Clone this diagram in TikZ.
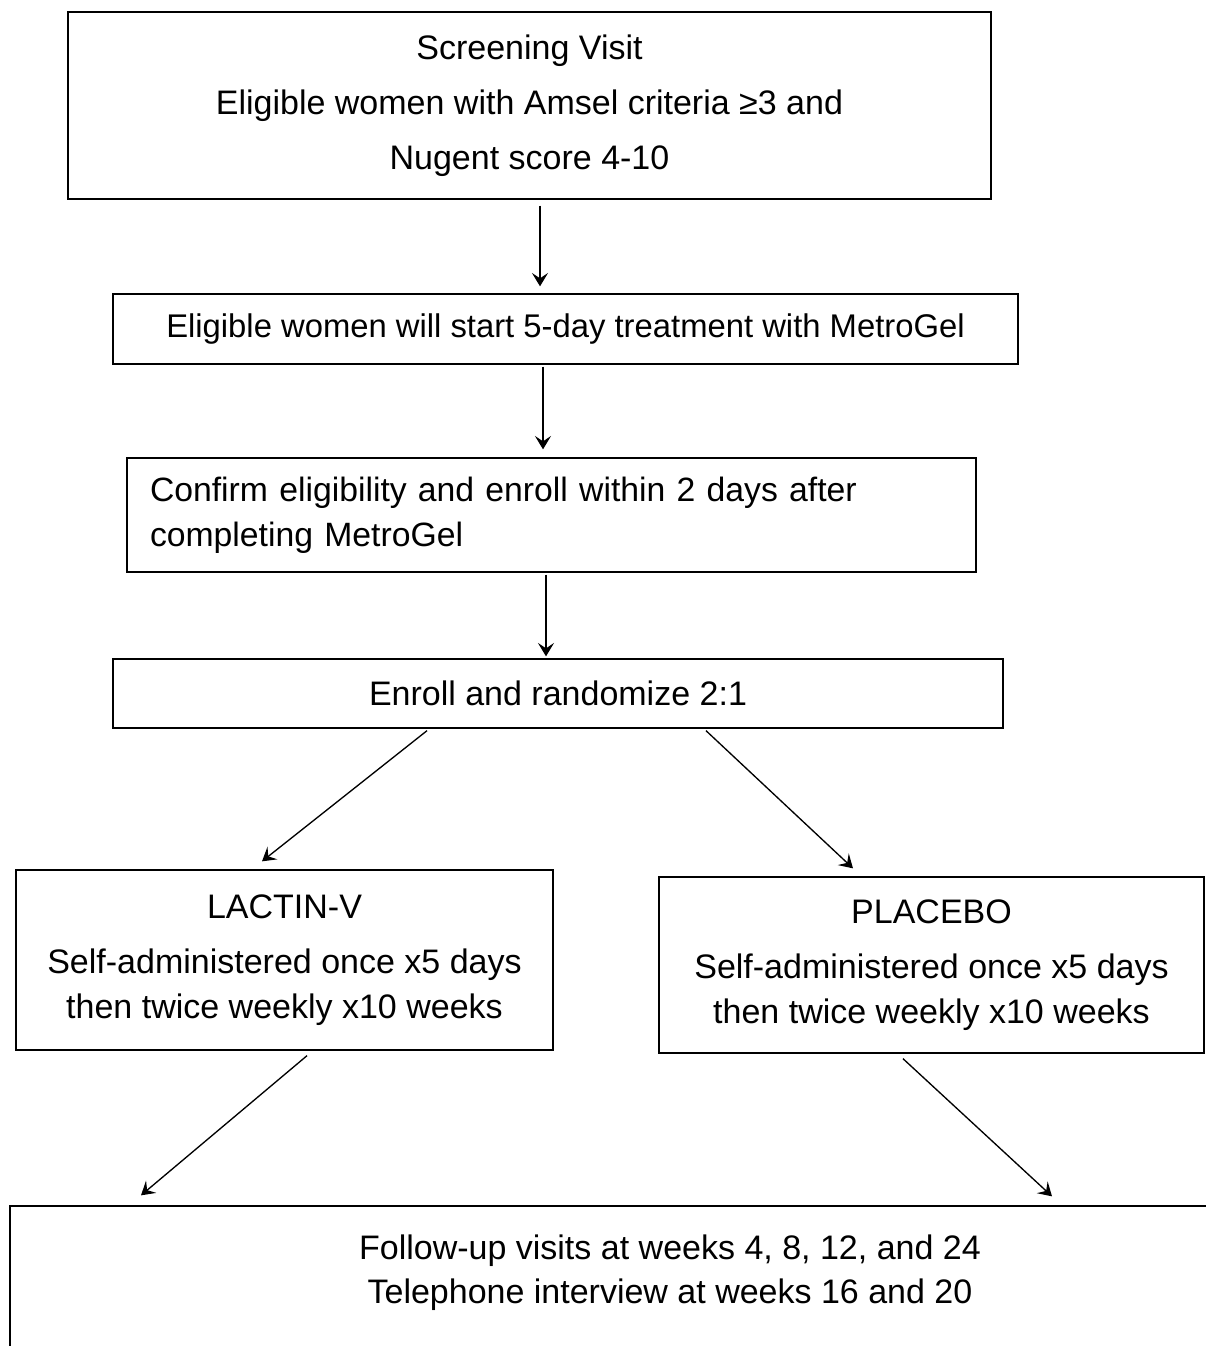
\documentclass[tikz,border=0pt]{standalone}
\usepackage{fontspec}
\setmainfont{Liberation Sans}
\usetikzlibrary{arrows.meta,calc}
\begin{document}
\begin{tikzpicture}[x=0.75pt,y=-0.75pt,
  box/.style={draw=black,line width=1pt,inner sep=0pt,align=center,
    font=\fontsize{25.5}{33.75}\selectfont},
  arr/.style={line width=1pt,-{Stealth[length=10pt,width=12pt,inset=4pt]}},
  txt/.style={inner sep=0pt,align=center,font=\fontsize{25.5}{33}\selectfont}]
\clip (0,0) rectangle (1206,1346);
\fill[white] (0,0) rectangle (1206,1346);

\node[box,minimum width=692.25pt,minimum height=140.25pt] (b1) at (529.5,105.5)
  {Screening Visit\\[7.5pt]Eligible women with Amsel criteria ≥3 and\\[7.5pt]Nugent score 4-10};
\node[box,minimum width=678.75pt,minimum height=52.5pt,font=\fontsize{24.6}{33}\selectfont] (b2) at (565.5,329)
  {Eligible women will start 5-day treatment with MetroGel};
\node[box,minimum width=636.75pt,minimum height=85.5pt,align=left,text width=602.25pt,font=\fontsize{25.3}{33.75}\selectfont] (b3) at (551.5,515)
  {Confirm eligibility and enroll within 2 days after\\completing MetroGel};
\node[box,minimum width=667.5pt,minimum height=51.75pt] (b4) at (558,693.5)
  {Enroll and randomize 2:1};
\node[box,minimum width=402.75pt,minimum height=135pt] (lac) at (284.5,960)
  {LACTIN-V\\[7.5pt]Self-administered once x5 days\\then twice weekly x10 weeks};
\node[box,minimum width=408.75pt,minimum height=132pt] (plc) at (931.5,965)
  {PLACEBO\\[7.5pt]Self-administered once x5 days\\then twice weekly x10 weeks};
\node[box,minimum width=990pt,minimum height=145.5pt] (fup) at (670,1303) {};
\node[txt] (fuptext) at (670,1273)
  {Follow-up visits at weeks 4, 8, 12, and 24\\Telephone interview at weeks 16 and 20};

\draw[arr] ($(b1.south)+(10.5,6)$) -- ($(b2.north)+(-25.5,-7)$);
\draw[arr] ($(b2.south)+(-22.5,2)$) -- ($(b3.north)+(-8.5,-8)$);
\draw[arr] ($(b3.south)+(-5.5,2)$) -- ($(b4.north)+(-12,-2)$);
\draw[arr] ($(b4.south)+(-131,2)$) -- ($(lac.north)+(-22.5,-8)$);
\draw[arr] ($(b4.south)+(148,2)$) -- ($(plc.north)+(-78.5,-8)$);
\draw[arr] ($(lac.south)+(22.5,5)$) -- ($(fup.north)+(-529,-10)$);
\draw[arr] ($(plc.south)+(-28.5,5)$) -- ($(fup.north)+(382,-9)$);
\end{tikzpicture}
\end{document}
